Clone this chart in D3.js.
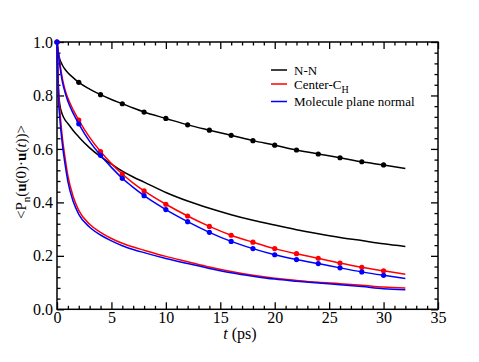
<!DOCTYPE html>
<html>
<head>
<meta charset="utf-8">
<script src="https://cdn.jsdelivr.net/npm/d3@7"></script>
<style>
  html, body { margin: 0; padding: 0; background: #fff; }
  svg { display: block; }
</style>
</head>
<body>
<svg id="chart" width="479" height="362" font-family="Liberation Serif"></svg>
<script>
// ---- data ----
const times = [0, 0.1, 0.25, 0.5, 0.75, 1, 1.5, 2, 3, 4, 5, 6, 7, 8, 10, 12, 14, 16, 18, 20, 22, 24, 26, 28, 30, 32];
const nnP1 = [1.0, 0.965, 0.937, 0.913, 0.897, 0.885, 0.866, 0.849, 0.824, 0.803, 0.785, 0.769, 0.753, 0.738, 0.714, 0.690, 0.670, 0.651, 0.631, 0.614, 0.596, 0.581, 0.567, 0.552, 0.540, 0.527];
const nnP2 = [1.0, 0.86, 0.768, 0.728, 0.708, 0.695, 0.668, 0.645, 0.604, 0.571, 0.543, 0.517, 0.495, 0.476, 0.437, 0.405, 0.378, 0.354, 0.333, 0.315, 0.298, 0.283, 0.269, 0.257, 0.245, 0.235];
const chP1 = [1.0, 0.97, 0.925, 0.862, 0.82, 0.79, 0.745, 0.708, 0.643, 0.590, 0.545, 0.506, 0.472, 0.443, 0.393, 0.349, 0.310, 0.277, 0.251, 0.227, 0.208, 0.191, 0.173, 0.157, 0.144, 0.131];
const mpP1 = [1.0, 0.965, 0.915, 0.85, 0.81, 0.778, 0.732, 0.694, 0.628, 0.576, 0.531, 0.490, 0.456, 0.425, 0.373, 0.328, 0.288, 0.254, 0.227, 0.204, 0.186, 0.171, 0.155, 0.140, 0.127, 0.115];
const chP2 = [1.0, 0.85, 0.75, 0.64, 0.565, 0.5, 0.42, 0.37, 0.318, 0.288, 0.265, 0.247, 0.233, 0.221, 0.198, 0.178, 0.158, 0.141, 0.127, 0.116, 0.108, 0.101, 0.096, 0.090, 0.083, 0.080];
const mpP2 = [1.0, 0.82, 0.72, 0.615, 0.54, 0.478, 0.402, 0.355, 0.307, 0.278, 0.256, 0.238, 0.224, 0.212, 0.190, 0.171, 0.153, 0.137, 0.124, 0.113, 0.105, 0.098, 0.092, 0.085, 0.077, 0.073];
const markerTimes = [0, 2, 4, 6, 8, 10, 12, 14, 16, 18, 20, 22, 24, 26, 28, 30];
const legendLabels = ["N-N", "Center-C", "Molecule plane normal"];
const colors = ["#000000", "#ff0000", "#0000ff"];
const xTicks = [0, 5, 10, 15, 20, 25, 30, 35];
const yTicks = [0, 0.2, 0.4, 0.6, 0.8, 1.0];

// ---- layout ----
const FONT = "Liberation Serif";
const svg = d3.select("#chart");
const L = 57, R = 438, T = 42, B = 309.3;
const x = d3.scaleLinear().domain([0, 35]).range([L, R]);
const y = d3.scaleLinear().domain([0, 1]).range([B, T]);

const xMinor = d3.range(0, 36).filter(v => v % 5 !== 0);
const yMinor = d3.range(0, 26).filter(i => i % 5 !== 0).map(i => i * 0.04);

function styleAxis(g) {
  g.attr("font-family", FONT).attr("font-size", 16);
  g.select(".domain").remove();
  g.selectAll("line").attr("stroke", "#000").attr("stroke-width", 1.3);
  g.selectAll("text").attr("font-family", FONT).attr("font-size", 16).attr("fill", "#000");
}

// bottom
svg.append("g").attr("transform", `translate(0,${B})`)
  .call(d3.axisBottom(x).tickValues(xTicks).tickSize(-7).tickPadding(2).tickFormat(d3.format("d")))
  .call(styleAxis);
svg.append("g").attr("transform", `translate(0,${B})`)
  .call(d3.axisBottom(x).tickValues(xMinor).tickSize(-3.5).tickFormat(""))
  .call(styleAxis);
// top
svg.append("g").attr("transform", `translate(0,${T})`)
  .call(d3.axisTop(x).tickValues(xTicks).tickSize(-7).tickFormat(""))
  .call(styleAxis);
svg.append("g").attr("transform", `translate(0,${T})`)
  .call(d3.axisTop(x).tickValues(xMinor).tickSize(-3.5).tickFormat(""))
  .call(styleAxis);
// left
svg.append("g").attr("transform", `translate(${L},0)`)
  .call(d3.axisLeft(y).tickValues(yTicks).tickSize(-7).tickPadding(4).tickFormat(d3.format(".1f")))
  .call(styleAxis);
svg.append("g").attr("transform", `translate(${L},0)`)
  .call(d3.axisLeft(y).tickValues(yMinor).tickSize(-3.5).tickFormat(""))
  .call(styleAxis);
// right
svg.append("g").attr("transform", `translate(${R},0)`)
  .call(d3.axisRight(y).tickValues(yTicks).tickSize(-7).tickFormat(""))
  .call(styleAxis);
svg.append("g").attr("transform", `translate(${R},0)`)
  .call(d3.axisRight(y).tickValues(yMinor).tickSize(-3.5).tickFormat(""))
  .call(styleAxis);

// frame
svg.append("rect").attr("x", L).attr("y", T).attr("width", R - L).attr("height", B - T)
  .attr("fill", "none").attr("stroke", "#000").attr("stroke-width", 1.5);

// ---- series ----
const line = d3.line().x(d => x(d[0])).y(d => y(d[1])).curve(d3.curveMonotoneX);
const series = [
  { vals: nnP1, c: colors[0], markers: true },
  { vals: nnP2, c: colors[0], markers: false },
  { vals: chP1, c: colors[1], markers: true },
  { vals: chP2, c: colors[1], markers: false },
  { vals: mpP1, c: colors[2], markers: true },
  { vals: mpP2, c: colors[2], markers: false }
];
series.forEach(s => {
  const pts = times.map((t, i) => [t, s.vals[i]]);
  svg.append("path").datum(pts).attr("d", line)
    .attr("fill", "none").attr("stroke", s.c).attr("stroke-width", 1.5);
  if (s.markers) {
    const mk = pts.filter(p => markerTimes.includes(p[0]));
    svg.append("g").selectAll("circle").data(mk).join("circle")
      .attr("cx", d => x(d[0])).attr("cy", d => y(d[1])).attr("r", 2.6)
      .attr("fill", s.c);
  }
});

// ---- legend ----
const legY = [70, 84, 101.5];
const lg = svg.append("g");
legendLabels.forEach((lab, i) => {
  lg.append("line").attr("x1", 271).attr("x2", 287).attr("y1", legY[i]).attr("y2", legY[i])
    .attr("stroke", colors[i]).attr("stroke-width", 1.5);
  const t = lg.append("text").attr("x", 294).attr("y", legY[i] + 4.5)
    .attr("font-family", FONT).attr("font-size", 13).attr("fill", "#000").text(lab);
  if (i === 1) {
    t.append("tspan").attr("font-size", 10).attr("dy", 4).text("H");
  }
});

// ---- axis titles ----
const xt = svg.append("text").attr("x", 240).attr("y", 339).attr("text-anchor", "middle")
  .attr("font-family", FONT).attr("font-size", 16).attr("fill", "#000");
xt.append("tspan").attr("font-style", "italic").text("t");
xt.append("tspan").text(" (ps)");

const yt = svg.append("text").attr("transform", "translate(26,172) rotate(-90)")
  .attr("text-anchor", "middle").attr("font-family", FONT).attr("font-size", 15).attr("fill", "#000");
yt.append("tspan").text("<P");
yt.append("tspan").attr("font-size", 11).attr("dy", 4).text("n");
yt.append("tspan").attr("dy", -4).text("(");
yt.append("tspan").attr("font-weight", "bold").text("u");
yt.append("tspan").text("(0)·");
yt.append("tspan").attr("font-weight", "bold").text("u");
yt.append("tspan").text("(");
yt.append("tspan").attr("font-style", "italic").text("t");
yt.append("tspan").text("))>");
</script>
</body>
</html>
